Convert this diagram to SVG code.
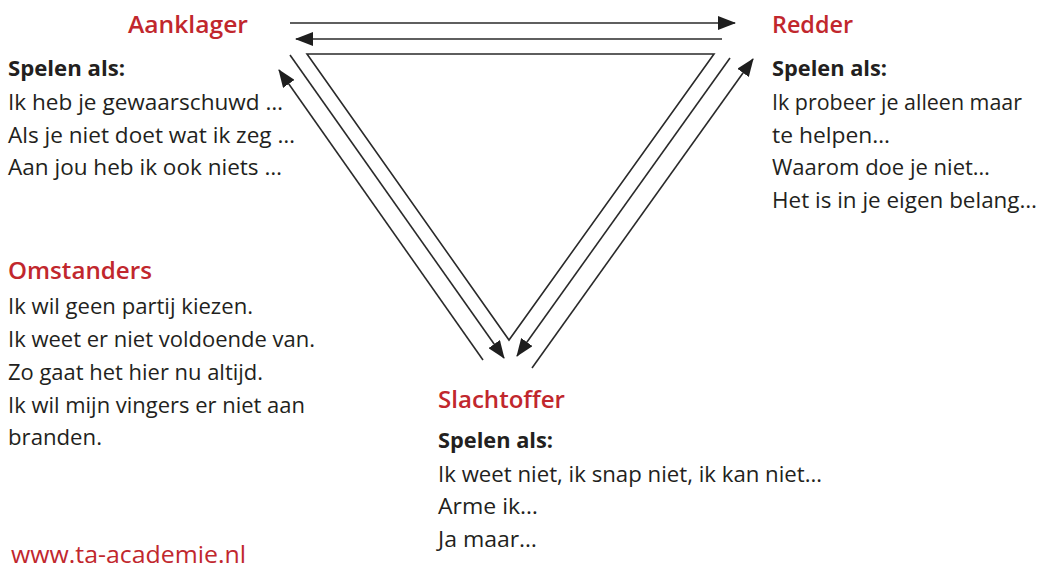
<svg xmlns="http://www.w3.org/2000/svg" width="1041" height="570" viewBox="0 0 1041 570">
<defs>
<marker id="ah" markerUnits="userSpaceOnUse" markerWidth="18" markerHeight="14" refX="17" refY="7" orient="auto">
<path d="M0,0 L18,7 L0,14 z" fill="#1e1e1e"/>
</marker>
<style>
.ln{stroke:#2a2a2a;stroke-width:1.6;fill:none}
.t{font-family:"Open Sans","Noto Sans",sans-serif;font-size:22px;fill:#231f20}
.h{font-family:"Open Sans","Noto Sans",sans-serif;font-size:24px;font-weight:600;fill:#c1272d}
.b{font-family:"Open Sans","Noto Sans",sans-serif;font-size:22px;font-weight:700;fill:#231f20}
.u{font-family:"Open Sans","Noto Sans",sans-serif;font-size:23px;fill:#c1272d}
</style>
</defs>
<rect width="1041" height="570" fill="#ffffff"/>
<g id="connectors">
<polygon class="ln" points="307,54 714,54 509,340"/>
<line class="ln" x1="290" y1="23" x2="735" y2="23" marker-end="url(#ah)"/>
<line class="ln" x1="722" y1="39" x2="296" y2="39" marker-end="url(#ah)"/>
<line class="ln" x1="290" y1="55" x2="504" y2="358" marker-end="url(#ah)"/>
<line class="ln" x1="483" y1="360" x2="279" y2="70" marker-end="url(#ah)"/>
<line class="ln" x1="730" y1="58" x2="517" y2="356" marker-end="url(#ah)"/>
<line class="ln" x1="532" y1="368" x2="753" y2="59" marker-end="url(#ah)"/>
</g>
<g id="aanklager">
<text class="h" x="128" y="33" textLength="120" lengthAdjust="spacingAndGlyphs">Aanklager</text>
<text class="b" x="8" y="76" textLength="117" lengthAdjust="spacingAndGlyphs">Spelen als:</text>
<text class="t" x="8" y="110" textLength="275" lengthAdjust="spacingAndGlyphs">Ik heb je gewaarschuwd …</text>
<text class="t" x="8" y="143" textLength="287" lengthAdjust="spacingAndGlyphs">Als je niet doet wat ik zeg …</text>
<text class="t" x="8" y="175" textLength="274" lengthAdjust="spacingAndGlyphs">Aan jou heb ik ook niets …</text>
</g>
<g id="redder">
<text class="h" x="772" y="33" textLength="81" lengthAdjust="spacingAndGlyphs">Redder</text>
<text class="b" x="772" y="76" textLength="115" lengthAdjust="spacingAndGlyphs">Spelen als:</text>
<text class="t" x="772" y="110" textLength="250" lengthAdjust="spacingAndGlyphs">Ik probeer je alleen maar</text>
<text class="t" x="772" y="143" textLength="118" lengthAdjust="spacingAndGlyphs">te helpen…</text>
<text class="t" x="772" y="175" textLength="218" lengthAdjust="spacingAndGlyphs">Waarom doe je niet…</text>
<text class="t" x="772" y="208" textLength="265" lengthAdjust="spacingAndGlyphs">Het is in je eigen belang…</text>
</g>
<g id="omstanders">
<text class="h" x="8" y="279" textLength="144" lengthAdjust="spacingAndGlyphs">Omstanders</text>
<text class="t" x="8" y="314" textLength="245" lengthAdjust="spacingAndGlyphs">Ik wil geen partij kiezen.</text>
<text class="t" x="8" y="347" textLength="307" lengthAdjust="spacingAndGlyphs">Ik weet er niet voldoende van.</text>
<text class="t" x="8" y="380" textLength="255" lengthAdjust="spacingAndGlyphs">Zo gaat het hier nu altijd.</text>
<text class="t" x="8" y="413" textLength="297" lengthAdjust="spacingAndGlyphs">Ik wil mijn vingers er niet aan</text>
<text class="t" x="8" y="445" textLength="94" lengthAdjust="spacingAndGlyphs">branden.</text>
</g>
<g id="slachtoffer">
<text class="h" x="438" y="408" textLength="127" lengthAdjust="spacingAndGlyphs">Slachtoffer</text>
<text class="b" x="438" y="448" textLength="115" lengthAdjust="spacingAndGlyphs">Spelen als:</text>
<text class="t" x="438" y="482" textLength="384" lengthAdjust="spacingAndGlyphs">Ik weet niet, ik snap niet, ik kan niet…</text>
<text class="t" x="438" y="514" textLength="100" lengthAdjust="spacingAndGlyphs">Arme ik…</text>
<text class="t" x="438" y="547" textLength="99" lengthAdjust="spacingAndGlyphs">Ja maar…</text>
</g>
<g id="website">
<text class="u" x="11" y="563" textLength="235" lengthAdjust="spacingAndGlyphs">www.ta-academie.nl</text>
</g>
</svg>
